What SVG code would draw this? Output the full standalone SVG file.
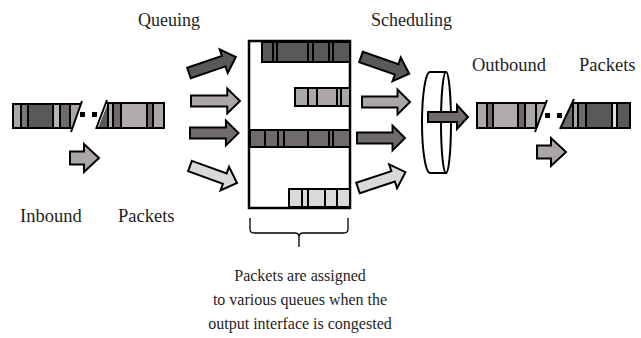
<svg xmlns="http://www.w3.org/2000/svg" width="641" height="338" viewBox="0 0 641 338">
  <style>
    .lbl { font-family: "Liberation Serif", "Times New Roman", serif; font-size: 16px; fill: #1e1e1e; }
    .hd { font-size: 18px; }
    .hp { font-size: 18.5px; }
    .ol { stroke: #000; stroke-width: 2; stroke-linejoin: miter; }
    .ln { stroke: #000; stroke-width: 2; fill: none; }
    .c-dark { fill: #595959; }
    .c-mid { fill: #6f6b6b; }
    .c-light { fill: #aba7a7; }
    .c-pale { fill: #d9d9d9; }
    .brace { stroke: #000; stroke-width: 1.3; fill: none; }
  </style>
  <defs>
    <!-- block arrow, tail at origin, pointing along +x, length 50 -->
    <path id="blk" d="M0,-5.5 H37 V-12.5 L50,0 L37,12.5 V5.5 H0 Z"/>
    <path id="blkS" d="M0,-6.5 H14 V-14 L29,0 L14,14 V6.5 H0 Z"/>
  </defs>

  <!-- headings -->
  <text class="lbl hd" x="138" y="26">Queuing</text>
  <text class="lbl hd" x="371" y="26">Scheduling</text>
  <text class="lbl hp" x="472" y="71">Outbound</text>
  <text class="lbl hp" x="579" y="71">Packets</text>
  <text class="lbl hp" x="20" y="222">Inbound</text>
  <text class="lbl hp" x="118" y="222">Packets</text>
  <text class="lbl" x="300" y="281" text-anchor="middle">Packets are assigned</text>
  <text class="lbl" x="300" y="305" text-anchor="middle">to various queues when the</text>
  <text class="lbl" x="300" y="329" text-anchor="middle">output interface is congested</text>

  <!-- inbound packet train -->
  <g id="inbound">
    <rect class="c-light" x="13" y="104" width="8" height="24"/>
    <rect fill="#7a7676" x="21" y="104" width="7" height="24"/>
    <rect class="c-dark" x="28" y="104" width="25" height="24"/>
    <rect fill="#b7b3b3" x="53" y="104" width="7" height="24"/>
    <rect class="c-mid" x="60" y="104" width="10" height="24"/>
    <polygon class="c-light" points="70,104 81,104 72,128 70,128"/>
    <path class="ln" d="M81,104 H13 V128 H72 M21,104 V128 M28,104 V128 M53,104 V128 M60,104 V128 M70,104 V128 M82,101 L71,132"/>
    <rect x="80" y="112" width="5" height="5" fill="#000"/>
    <rect x="92" y="112" width="5" height="5" fill="#000"/>
    <polygon class="c-dark" points="98,128 108,103 108,128"/>
    <rect class="c-light" x="108" y="103" width="5" height="25"/>
    <rect class="c-mid" x="113" y="103" width="8" height="25"/>
    <rect fill="#b0acac" x="121" y="103" width="26" height="25"/>
    <rect class="c-mid" x="147" y="103" width="6" height="25"/>
    <rect class="c-light" x="153" y="103" width="11" height="25"/>
    <path class="ln" d="M106,103 H164 V128 H97 M108,103 V128 M113,103 V128 M121,103 V128 M147,103 V128 M153,103 V128 M96,129 L107,100"/>
    <use href="#blkS" class="c-light ol" transform="translate(70,158)"/>
  </g>

  <!-- queuing arrows -->
  <g id="queue-in">
    <use href="#blk" class="c-dark ol" transform="translate(189,73) rotate(-18.8) scale(0.99,1)"/>
    <use href="#blk" class="c-light ol" transform="translate(191,101) scale(0.98,1)"/>
    <use href="#blk" class="c-mid ol" transform="translate(190,133) scale(0.97,1)"/>
    <use href="#blk" class="c-pale ol" transform="translate(190,166) rotate(19.9)"/>
  </g>

  <!-- queue buffer -->
  <g id="queues">
    <rect x="249" y="41" width="101" height="167" fill="#fff" stroke="#000" stroke-width="2.5"/>
    <rect class="c-dark ol" x="262" y="42" width="88" height="20"/>
    <path class="ln" d="M273,42 V62 M277,42 V62 M308,42 V62 M313,42 V62 M329,42 V62 M333,42 V62"/>
    <rect class="c-light ol" x="295" y="88" width="55" height="18"/>
    <path class="ln" d="M308,88 V106 M317,88 V106 M337,88 V106 M341,88 V106"/>
    <rect class="c-mid ol" x="250" y="130" width="100" height="17"/>
    <path class="ln" d="M265,130 V147 M278,130 V147 M284,130 V147 M308,130 V147 M329,130 V147 M333,130 V147"/>
    <rect class="c-pale ol" x="289" y="189" width="61" height="18"/>
    <path class="ln" d="M302,189 V207 M308,189 V207 M325,189 V207 M337,189 V207"/>
  </g>

  <!-- brace under the buffer -->
  <path class="brace" d="M250,218 V229 Q250,233 254,233 H295 Q299,233 299,237 V247 M299,237 Q299,233 303,233 H344 Q348,233 348,229 V218"/>

  <!-- scheduling arrows -->
  <g id="sched-in">
    <use href="#blk" class="c-dark ol" transform="translate(361,57) rotate(19.1) scale(1.02,1)"/>
    <use href="#blk" class="c-light ol" transform="translate(362,102) scale(0.96,1)"/>
    <use href="#blk" class="c-mid ol" transform="translate(357,138) scale(0.96,1)"/>
    <use href="#blk" class="c-pale ol" transform="translate(358,188) rotate(-18.4)"/>
  </g>

  <!-- scheduler wheel -->
  <g id="scheduler">
    <path d="M430,72 H446 V173 H430 A8,50.5 0 0 1 430,72 Z" fill="#fff" class="ol"/>
    <ellipse cx="446" cy="122.5" rx="5" ry="50.5" fill="#fff" class="ol"/>
    <path class="c-mid ol" d="M428,112 H457 V105 L468,117 L457,129 V122 H428 Z"/>
  </g>

  <!-- outbound packet train -->
  <g id="outbound">
    <rect class="c-light" x="477" y="103" width="10" height="25"/>
    <rect class="c-mid" x="487" y="103" width="6" height="25"/>
    <rect fill="#b0acac" x="493" y="103" width="25" height="25"/>
    <rect class="c-mid" x="518" y="103" width="7" height="25"/>
    <rect class="c-light" x="525" y="103" width="11" height="25"/>
    <polygon class="c-light" points="536,103 546,103 537,128 536,128"/>
    <path class="ln" d="M546,103 H477 V128 H537 M487,103 V128 M493,103 V128 M518,103 V128 M525,103 V128 M536,103 V128 M547,100 L535,132"/>
    <rect x="545" y="113" width="5" height="5" fill="#000"/>
    <rect x="557" y="113" width="5" height="5" fill="#000"/>
    <polygon class="c-mid" points="561,128 573,102 573,128"/>
    <rect class="c-light" x="573" y="103" width="5" height="25"/>
    <rect class="c-mid" x="578" y="103" width="8" height="25"/>
    <rect class="c-dark" x="586" y="103" width="26" height="25"/>
    <rect fill="#dcdcdc" x="612" y="103" width="5" height="25"/>
    <rect class="c-dark" x="617" y="103" width="13" height="25"/>
    <path class="ln" d="M572,103 H630 V128 H560 M573,103 V128 M578,103 V128 M586,103 V128 M612,103 V128 M617,103 V128 M560,129 L574,99"/>
    <use href="#blkS" class="c-light ol" transform="translate(537,152)"/>
  </g>
</svg>
